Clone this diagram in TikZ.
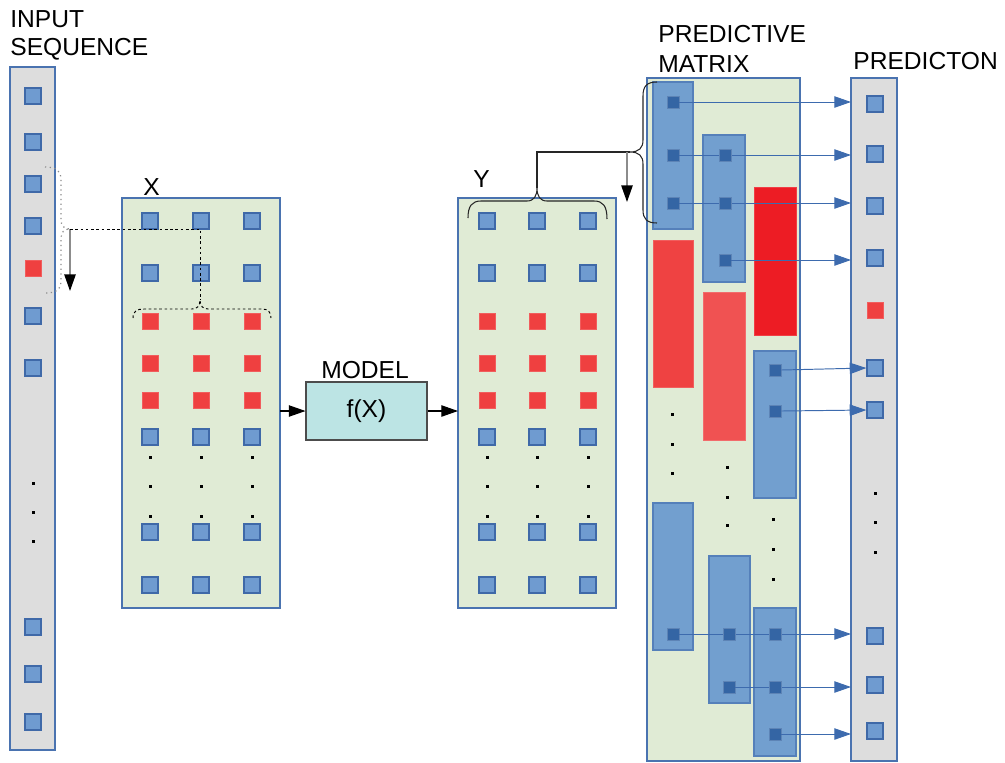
\documentclass[tikz,border=0pt]{standalone}
\usepackage{fontspec}
\setmainfont{Liberation Sans}
\usetikzlibrary{arrows.meta}

\definecolor{sqblue}{HTML}{6F9BD0}
\definecolor{sqedge}{HTML}{3F69A8}
\definecolor{sqred}{HTML}{EF4040}
\definecolor{panelgreen}{HTML}{E0EBD5}
\definecolor{panelgray}{HTML}{DDDDDD}
\definecolor{paneledge}{HTML}{4A73B0}
\definecolor{barblue}{HTML}{729FCF}
\definecolor{baredge}{HTML}{5580BA}
\definecolor{barred}{HTML}{EF4242}
\definecolor{barredlight}{HTML}{F05252}
\definecolor{barredstrong}{HTML}{ED1C24}
\definecolor{darksq}{HTML}{3465A4}
\definecolor{modelfill}{HTML}{BCE4E4}
\definecolor{flowblue}{HTML}{3D6BAE}

% one unit = one pixel of the layout grid
\def\U{0.02cm}

\tikzset{
  boxsize/.style 2 args={minimum width=#1*\U, minimum height=#2*\U},
  panel/.style={draw=paneledge, line width=0.8pt, inner sep=0pt, outer sep=0pt},
  greenpanel/.style={panel, fill=panelgreen},
  graypanel/.style={panel, fill=panelgray},
  bsq/.style={draw=sqedge, fill=sqblue, line width=0.7pt, minimum size=16*\U, inner sep=0pt},
  rsq/.style={draw=sqred!85!white, fill=sqred, line width=0.5pt, minimum size=16*\U, inner sep=0pt},
  dsq/.style={fill=darksq, draw=darksq!80!white, line width=0.3pt, minimum size=12*\U, inner sep=0pt},
  dotmark/.style={fill=black, minimum size=3*\U, inner sep=0pt},
  bluebar/.style={draw=baredge, fill=barblue, line width=0.7pt, inner sep=0pt},
  redbar/.style={draw=#1!85!white, fill=#1, line width=0.5pt, inner sep=0pt},
  lbl/.style={font=\fontsize{14}{16}\selectfont, inner sep=0pt, anchor=base west},
  modelbox/.style={draw=black!70, fill=modelfill, line width=0.6pt, inner sep=0pt,
    font=\fontsize{14}{16}\selectfont},
  feed/.style={draw=black, line width=0.6pt, -{Triangle[length=9.5pt,width=6.5pt]}},
  flow/.style={draw=flowblue, line width=0.55pt, -{Triangle[length=9.5pt,width=6.5pt]}},
  drop/.style={draw=black!45, line width=0.8pt, -{Triangle[length=9.5pt,width=6.5pt,color=black]}},
  dotbrace/.style={draw=black!45, line width=0.7pt, dotted},
  dashbrace/.style={draw=black, line width=0.55pt, dash pattern=on 1.5pt off 1.5pt},
  brace/.style={draw=black!85, line width=0.6pt},
}

\begin{document}
\begin{tikzpicture}[x=0.02cm, y=-0.02cm]
\useasboundingbox (0,0) rectangle (1005,762);

% ---------- labels ----------
\node[lbl] (tInput) at (10,27) {INPUT};
\node[lbl] (tSeq) at (10,55) {SEQUENCE};
\node[lbl] (tX) at (143,195) {X};
\node[lbl] (tY) at (473,187) {Y};
\node[lbl] (tModel) at (321,378) {MODEL};
\node[lbl] (tPm1) at (658,42) {PREDICTIVE};
\node[lbl] (tPm2) at (658,72) {MATRIX};
\node[lbl] (tOut) at (853,69) {PREDICTON};

% ---------- panels ----------
\node[graypanel, boxsize={45}{683}] (inseq) at (32.5,408.5) {};
\node[greenpanel, boxsize={158}{410}] (xpan) at (201,403) {};
\node[greenpanel, boxsize={158}{410}] (ypan) at (537,403) {};
\node[modelbox, boxsize={121}{58}] (model) at (366.5,411) {f(X)};
\node[greenpanel, boxsize={153}{683}] (pm) at (723.5,419.5) {};
\node[graypanel, boxsize={46}{683}] (pred) at (874,419.5) {};

% ---------- input sequence ----------
\foreach \y [count=\i] in {96,142,184,226,316,368,627,674,722}
  \node[bsq] (in\i) at (33,\y) {};
\node[rsq] (inred) at (33,268) {};
\foreach \y [count=\i] in {483,512,541}
  \node[dotmark] (indot\i) at (33,\y) {};

% ---------- X and Y windows ----------
\foreach \c [count=\j] in {150,201,252} {
  \foreach \r [count=\i] in {221,273,437,532,585}
    \node[bsq] (xb\j\i) at (\c,\r) {};
  \foreach \r [count=\i] in {321,363,400}
    \node[rsq] (xr\j\i) at (\c,\r) {};
  \foreach \r [count=\i] in {457,486,516}
    \node[dotmark] (xd\j\i) at (\c,\r) {};
}
\foreach \c [count=\j] in {487,537,588} {
  \foreach \r [count=\i] in {221,273,437,532,585}
    \node[bsq] (yb\j\i) at (\c,\r) {};
  \foreach \r [count=\i] in {321,363,400}
    \node[rsq] (yr\j\i) at (\c,\r) {};
  \foreach \r [count=\i] in {457,486,516}
    \node[dotmark] (yd\j\i) at (\c,\r) {};
}

% ---------- predictive matrix ----------
\node[bluebar, boxsize={40}{147}] (bar1a) at (673,155.5) {};
\node[redbar=barred, boxsize={40}{147}] (red1) at (673,313.5) {};
\node[bluebar, boxsize={40}{147}] (bar1b) at (673,576.5) {};
\node[bluebar, boxsize={42}{147}] (bar2a) at (724,208.5) {};
\node[redbar=barredlight, boxsize={42}{148}] (red2) at (724,366) {};
\node[bluebar, boxsize={41}{147}] (bar2b) at (729.5,629.5) {};
\node[redbar=barredstrong, boxsize={42}{148}] (red3) at (775,261) {};
\node[bluebar, boxsize={42}{147}] (bar3a) at (775,424.5) {};
\node[bluebar, boxsize={42}{148}] (bar3b) at (775,682) {};

\foreach \y [count=\i] in {414,444,473}
  \node[dotmark] (pmdA\i) at (672,\y) {};
\foreach \y [count=\i] in {467,497,525}
  \node[dotmark] (pmdB\i) at (727,\y) {};
\foreach \y [count=\i] in {519,549,579}
  \node[dotmark] (pmdC\i) at (773,\y) {};

% predicted values inside the windows
\node[dsq] (d11) at (673,102) {};
\node[dsq] (d12) at (673,155) {};
\node[dsq] (d13) at (673,203) {};
\node[dsq] (d21) at (725,155) {};
\node[dsq] (d22) at (725,203) {};
\node[dsq] (d23) at (725,260) {};
\node[dsq] (d31) at (775,370) {};
\node[dsq] (d32) at (775,411) {};
\node[dsq] (e11) at (673,634) {};
\node[dsq] (e21) at (729,634) {};
\node[dsq] (e22) at (729,687) {};
\node[dsq] (e31) at (775,634) {};
\node[dsq] (e32) at (775,687) {};
\node[dsq] (e33) at (775,734) {};

% ---------- prediction column ----------
\foreach \y [count=\i] in {104,154,206,258,368,410,636,685,731}
  \node[bsq] (p\i) at (875,\y) {};
\node[rsq] (predred) at (875,310) {};
\foreach \y [count=\i] in {493,522,552}
  \node[dotmark] (pdot\i) at (875,\y) {};

% ---------- connectors ----------
\draw[feed] (xpan.east |- model.west) -- (model.west);
\draw[feed] (model.east) -- (ypan.west |- model.east);

\draw[flow] (d11.east) -- (d11.east -| pred.west);
\draw[flow] (d12.east) -- (d12.east -| pred.west);
\draw[flow] (d13.east) -- (d13.east -| pred.west);
\draw[flow] (d23.east) -- (d23.east -| pred.west);
\draw[flow] (d31.east) -- (p5.west);
\draw[flow] (d32.east) -- (p6.west);
\draw[flow] (e11.east) -- (e11.east -| pred.west);
\draw[flow] (e22.east) -- (e22.east -| pred.west);
\draw[flow] (e33.east) -- (e33.east -| pred.west);
\node[dsq] (d21top) at (d21) {};
\node[dsq] (d22top) at (d22) {};
\node[dsq] (e21top) at (e21) {};
\node[dsq] (e31top) at (e31) {};
\node[dsq] (e32top) at (e32) {};

% input window brace and its link to X
\coordinate (inTip) at (70,229);
\coordinate (inEnd) at (70,291);
\coordinate (xTip) at (200,300);
\draw[dotbrace] (45,167) .. controls (57,167) and (61,171) .. (61,180) -- (61,219)
  .. controls (61,226) and (64,229) .. (inTip)
  .. controls (64,229) and (61,232) .. (61,239) -- (61,282)
  .. controls (61,289) and (57,293) .. (45,293);
\draw[drop] (inTip) -- (inEnd);
\draw[dashbrace] (inTip) -| (xTip);
\draw[dashbrace] (133,318) .. controls (133,311) and (137,309) .. (144,309) -- (192,309)
  .. controls (197,309) and (200,306) .. (xTip)
  .. controls (200,306) and (203,309) .. (208,309) -- (262,309)
  .. controls (268,309) and (271,312) .. (271,318);

% Y brace and its link to the predictive matrix
\coordinate (yTip) at (537,188);
\coordinate (pmTip) at (630,152);
\coordinate (pmDrop) at (627,152);
\coordinate (pmEnd) at (627,202);
\draw[brace] (468,218) .. controls (468,206) and (472,201) .. (481,201) -- (527,201)
  .. controls (534,201) and (537,196) .. (yTip)
  .. controls (537,196) and (540,201) .. (547,201) -- (594,201)
  .. controls (603,201) and (607,206) .. (607,219);
\draw[brace] (yTip) |- (pmTip);
\draw[brace] (657,82) .. controls (647,82) and (643,86) .. (643,96) -- (643,140)
  .. controls (643,148) and (639,152) .. (pmTip)
  .. controls (639,152) and (643,156) .. (643,164) -- (643,210)
  .. controls (643,219) and (647,223) .. (657,223);
\draw[drop] (pmDrop) -- (pmEnd);

\end{tikzpicture}
\end{document}
